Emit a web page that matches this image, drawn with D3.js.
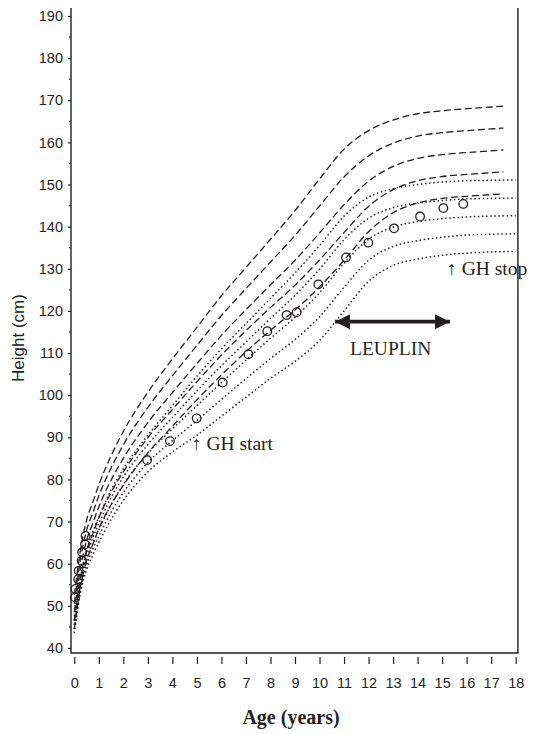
<!DOCTYPE html>
<html>
<head>
<meta charset="utf-8">
<script src="https://cdn.jsdelivr.net/npm/d3@7"></script>
<style>
  body { margin: 0; background: #fff; }
  svg text { fill: #231f20; }
  .axis .tick text { font-family: "Liberation Sans", Arial, sans-serif; font-size: 14.5px; }
  .axis .tick line { stroke: #231f20; stroke-width: 1.2; }
  .axis-title { font-family: "Liberation Sans", Arial, sans-serif; font-size: 17px; }
  .x-title { font-family: "Liberation Serif", "Times New Roman", serif; font-size: 20px; font-weight: bold; }
  .note { font-family: "Liberation Serif", "Times New Roman", serif; font-size: 19.5px; }
  .frame { fill: none; stroke: #231f20; stroke-width: 1.4; }
  .curve { fill: none; stroke: #231f20; stroke-width: 1.3; }
  .curve.dashed { stroke-dasharray: 7, 3.5; }
  .curve.dotted { stroke-dasharray: 1.5, 2.6; stroke-width: 1.5; }
  .patient { fill: none; stroke: #231f20; stroke-width: 1.3; }
</style>
</head>
<body>
<div id="chart"></div>
<script>
// Reference curves (dashed), ages in years
const dashedAges = [0, 0.25, 0.5, 0.75, 1, 1.5, 2, 3, 4, 5, 6, 7, 8, 9, 10, 11, 12, 13, 14, 15, 16, 17, 17.5];
const dashedPlus2 = [52.5, 63.2, 70.3, 74.5, 78.7, 85.6, 91.4, 100.7, 108.6, 116.1, 123.6, 130.3, 137.0, 143.8, 151.3, 158.4, 162.8, 165.3, 166.8, 167.5, 168.0, 168.4, 168.6];
const dashedPlus1 = [50.5, 61.0, 67.9, 72.0, 76.1, 82.7, 88.2, 97.1, 104.6, 111.8, 118.9, 125.3, 131.6, 137.9, 144.9, 151.8, 156.8, 159.8, 161.5, 162.3, 162.8, 163.2, 163.4];
const dashedMean = [48.5, 58.8, 65.5, 69.5, 73.5, 79.8, 85.0, 93.5, 100.6, 107.5, 114.2, 120.3, 126.2, 132.0, 138.5, 145.2, 150.8, 154.3, 156.2, 157.1, 157.6, 158.0, 158.2];
const dashedMinus1 = [46.5, 56.6, 63.1, 67.0, 70.9, 76.9, 81.8, 89.9, 96.6, 103.2, 109.5, 115.3, 120.8, 126.1, 132.1, 138.6, 144.8, 148.8, 150.9, 151.9, 152.4, 152.8, 153.0];
const dashedMinus2 = [44.5, 54.4, 60.7, 64.5, 68.3, 74.0, 78.6, 86.3, 92.6, 98.9, 104.8, 110.3, 115.4, 120.2, 125.7, 132.0, 138.8, 143.3, 145.6, 146.7, 147.2, 147.6, 147.8];

// Reference curves (dotted)
const dottedAges = [0, 0.25, 0.5, 0.75, 1, 1.5, 2, 3, 4, 5, 6, 7, 8, 9, 10, 11, 12, 13, 14, 15, 16, 17, 18];
const dotted1 = [43.5, 53.0, 58.5, 62.0, 65.0, 70.5, 75.0, 81.8, 86.5, 90.5, 95.0, 99.5, 104.0, 108.0, 113.0, 120.0, 127.0, 130.8, 132.3, 133.2, 133.7, 134.0, 134.1];
const dotted2 = [44.5, 54.0, 59.6, 63.4, 66.5, 72.2, 76.9, 84.0, 89.2, 94.0, 99.0, 103.9, 108.7, 113.2, 118.6, 125.6, 132.0, 135.3, 136.7, 137.5, 138.0, 138.2, 138.3];
const dotted3 = [45.5, 55.0, 60.8, 64.8, 68.0, 74.0, 78.8, 86.2, 92.0, 97.5, 103.0, 108.3, 113.5, 118.5, 124.3, 131.3, 137.0, 139.9, 141.2, 141.9, 142.3, 142.5, 142.6];
const dotted4 = [46.5, 56.0, 61.9, 66.1, 69.5, 75.7, 80.6, 88.3, 94.7, 101.0, 107.0, 112.6, 118.2, 123.7, 129.9, 136.9, 142.0, 144.5, 145.6, 146.2, 146.6, 146.7, 146.8];
const dotted5 = [47.5, 57.0, 63.0, 67.5, 71.0, 77.5, 82.5, 90.5, 97.5, 104.5, 111.0, 117.0, 123.0, 129.0, 135.5, 142.5, 147.0, 149.0, 150.0, 150.6, 150.9, 151.0, 151.1];

// Patient measurements
const patientAges = [0.03, 0.05, 0.16, 0.18, 0.3, 0.32, 0.44, 0.46, 2.97, 3.9, 4.99, 6.05, 7.1, 7.87, 8.66, 9.07, 9.95, 11.08, 11.99, 13.04, 14.1, 15.05, 15.86];
const patientHeights = [52.0, 54.0, 56.3, 58.3, 60.7, 62.7, 64.6, 66.6, 84.6, 89.1, 94.5, 103.0, 109.7, 115.2, 119.0, 119.7, 126.3, 132.7, 136.2, 139.6, 142.4, 144.4, 145.4];

// Axis ticks
const xTicks = d3.range(0, 19);
const yTicks = [40, 50, 60, 70, 80, 90, 100, 110, 120, 130, 140, 150, 160, 170, 180, 190];
const yMinorTicks = [45, 55, 65, 75, 85, 95, 105, 115, 125, 135, 145, 155, 165, 175, 185];

// Treatment markers
const ghStart = 'GH start';
const ghStop = 'GH stop';
const leuplinLabel = 'LEUPLIN';
const leuplinPeriod = [10.63, 15.32];

const width = 534, height = 734;

const svg = d3.select('#chart').append('svg')
    .attr('width', width)
    .attr('height', height);

const x = d3.scaleLinear().domain([0, 18]).range([74.3, 515.7]);
const y = d3.scaleLinear().domain([38.8, 191.9]).range([653, 8]);

const frameLeft = x(0) - 3.3, frameRight = x(18) + 2.2;
const frameTop = y.range()[1], frameBottom = y.range()[0];

// Arrow head used at both ends of the LEUPLIN bar
svg.append('defs').append('marker')
    .attr('id', 'arrow')
    .attr('viewBox', '0 0 10 10')
    .attr('refX', 10)
    .attr('refY', 5)
    .attr('markerWidth', 4.2)
    .attr('markerHeight', 4.4)
    .attr('markerUnits', 'strokeWidth')
    .attr('orient', 'auto-start-reverse')
  .append('path')
    .attr('d', 'M0,0 L10,5 L0,10 Z')
    .attr('fill', '#231f20');

// Frame: left, bottom, right (no top)
svg.append('path')
    .attr('class', 'frame')
    .attr('d', `M${frameLeft},${frameTop} V${frameBottom} H${frameRight} V${frameTop}`);

// Y axis
const yAxis = svg.append('g')
    .attr('class', 'axis')
    .attr('transform', `translate(${frameLeft},0)`)
    .call(d3.axisLeft(y).tickValues(yTicks).tickSize(3).tickPadding(5));
yAxis.select('.domain').remove();

svg.append('g')
    .selectAll('line')
    .data(yMinorTicks)
  .join('line')
    .attr('x1', frameLeft - 2)
    .attr('x2', frameLeft - 0.5)
    .attr('y1', d => y(d))
    .attr('y2', d => y(d))
    .attr('stroke', '#231f20')
    .attr('stroke-width', 1.2);

// X axis, ticks detached below the frame
const xAxis = svg.append('g')
    .attr('class', 'axis')
    .attr('transform', `translate(0,${frameBottom + 4})`)
    .call(d3.axisBottom(x).tickValues(xTicks).tickFormat(d3.format('d')).tickSize(7).tickPadding(13.5));
xAxis.select('.domain').remove();

svg.append('text')
    .attr('class', 'axis-title')
    .attr('transform', `translate(24,338) rotate(-90)`)
    .attr('text-anchor', 'middle')
    .text('Height (cm)');

svg.append('text')
    .attr('class', 'x-title')
    .attr('x', 291)
    .attr('y', 724)
    .attr('text-anchor', 'middle')
    .text('Age (years)');

// Curves
const line = d3.line()
    .x(d => x(d[0]))
    .y(d => y(d[1]))
    .curve(d3.curveMonotoneX);

const dashedSeries = [dashedPlus2, dashedPlus1, dashedMean, dashedMinus1, dashedMinus2];
const dottedSeries = [dotted1, dotted2, dotted3, dotted4, dotted5];

svg.append('g').selectAll('path')
    .data(dottedSeries)
  .join('path')
    .attr('class', 'curve dotted')
    .attr('d', s => line(s.map((v, i) => [dottedAges[i], v])));

svg.append('g').selectAll('path')
    .data(dashedSeries)
  .join('path')
    .attr('class', 'curve dashed')
    .attr('d', s => line(s.map((v, i) => [dashedAges[i], v])));

// Patient points
svg.append('g').selectAll('circle')
    .data(patientAges.map((a, i) => [a, patientHeights[i]]))
  .join('circle')
    .attr('class', 'patient')
    .attr('cx', d => x(d[0]))
    .attr('cy', d => y(d[1]))
    .attr('r', 4.3);

// Annotations
svg.append('text')
    .attr('class', 'note')
    .attr('x', x(4.79))
    .attr('y', y(87.0))
    .text(`\u2191 ${ghStart}`);

svg.append('text')
    .attr('class', 'note')
    .attr('x', x(15.2))
    .attr('y', y(128.5))
    .text(`\u2191 ${ghStop}`);

svg.append('line')
    .attr('x1', x(leuplinPeriod[0]))
    .attr('x2', x(leuplinPeriod[1]))
    .attr('y1', y(117.45))
    .attr('y2', y(117.45))
    .attr('stroke', '#231f20')
    .attr('stroke-width', 3.6)
    .attr('marker-start', 'url(#arrow)')
    .attr('marker-end', 'url(#arrow)');

svg.append('text')
    .attr('class', 'note')
    .attr('x', x(12.9))
    .attr('y', y(109.5))
    .attr('text-anchor', 'middle')
    .text(leuplinLabel);
</script>
</body>
</html>
